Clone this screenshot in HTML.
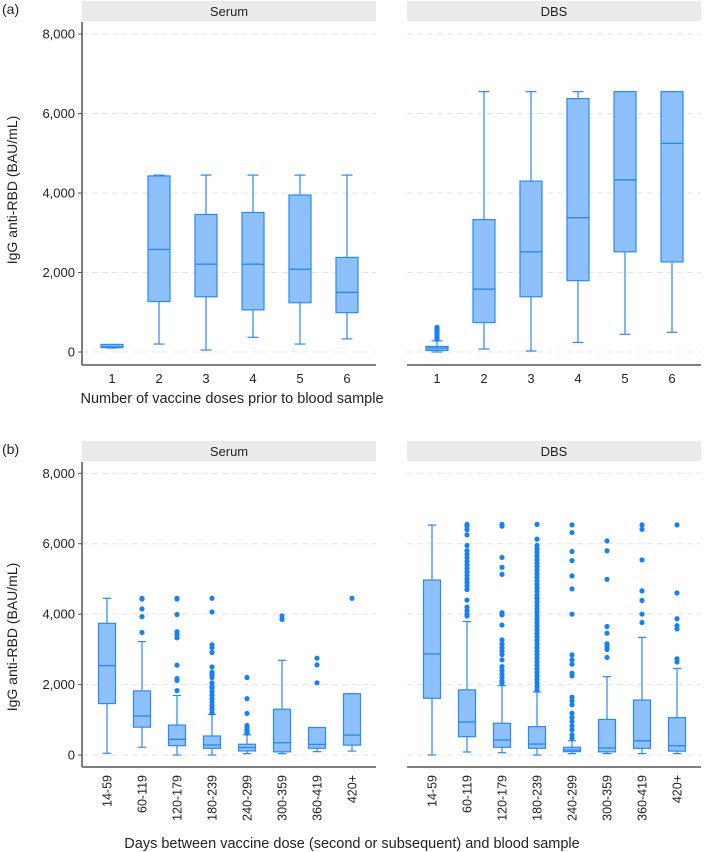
<!DOCTYPE html>
<html><head><meta charset="utf-8"><style>
html,body{margin:0;padding:0;background:#fff;}
svg{display:block;font-family:"Liberation Sans",Arial,sans-serif;}
</style></head><body>
<svg id="chart" width="704" height="852" viewBox="0 0 704 852"></svg>
<script>
// ---------- data ----------
const dosesCats = ["1","2","3","4","5","6"];
// [lowWhisker, q1, median, q3, highWhisker]
const aSerum = [[100,110,130,190,190],[200,1270,2580,4430,4450],[50,1390,2210,3460,4450],[370,1060,2210,3510,4450],[200,1240,2080,3950,4450],[330,990,1500,2380,4450]];
const aDBS = [[0,40,100,140,280],[75,740,1580,3330,6550],[25,1390,2520,4300,6550],[240,1795,3380,6375,6550],[445,2520,4330,6550,6550],[495,2265,5250,6550,6550]];
const aSerumOut = [[],[],[],[],[],[]];
const aDBSOut = [[320,360,400,440,480,520,560,600,620],[],[],[],[],[]];

const dayCats = ["14-59","60-119","120-179","180-239","240-299","300-359","360-419","420+"];
const bSerum = [[50,1460,2540,3740,4450],[220,790,1110,1820,3220],[0,265,445,850,1690],[0,190,285,540,1150],[40,115,210,305,575],[40,90,350,1300,2690],[95,190,300,780,780],[110,280,565,1740,1740]];
const bSerumOut = [
 [],
 [4450,4430,4150,3930,3480],
 [4450,4430,3990,3500,3420,3330,2550,2170,2120,1830],
 [4450,4060,3130,3050,2910,2500,2350,2280,2200,2050,1950,1900,1800,1700,1600,1500,1400,1300,1200],
 [2200,1600,1180,840,780,720,660,620],
 [3950,3850],
 [2750,2560,2050],
 [4450]
];
const bDBS = [[0,1610,2870,4970,6530],[85,520,940,1850,3790],[65,220,425,900,1970],[0,190,310,805,1790],[40,95,140,220,405],[40,90,200,1010,2225],[40,190,405,1560,3340],[40,110,265,1060,2460]];
const bDBSOut = [
 [],
 [6550,6500,6400,6250,5950,5800,5700,5600,5500,5400,5300,5200,5100,5000,4900,4800,4700,4400,4200,4100,4000,3950],
 [6550,6500,5610,5330,5130,4040,3980,3690,3270,3150,3050,2950,2850,2700,2510,2400,2300,2200,2100,2040],
 [6550,6130,5950,5850,5750,5650,5550,5450,5350,5250,5150,5050,4950,4850,4750,4650,4550,4450,4350,4250,4150,4050,3950,3850,3750,3650,3550,3450,3350,3250,3150,3050,2950,2850,2750,2650,2550,2450,2350,2250,2150,2050,1950,1850],
 [6535,6317,5777,5522,5087,4718,3999,2844,2702,2579,2324,2248,1642,1538,1425,1188,1065,951,828,715,573,478],
 [6080,5800,4990,3650,3460,3160,3080,3000,2770],
 [6535,6410,5540,4660,4390,3999,3763],
 [6535,4600,3870,3670,3580,2730,2640]
];
const yTicks = [0,2000,4000,6000,8000];
const yTickLabels = ["0","2,000","4,000","6,000","8,000"];

// ---------- drawing ----------
const svg = document.getElementById('chart');
const NS = "http://www.w3.org/2000/svg";
function mk(tag, attrs, parent){ const e=document.createElementNS(NS,tag); for(const k in attrs) e.setAttribute(k,attrs[k]); (parent||svg).appendChild(e); return e; }
const STROKE="#2a8af2", FILL="#8ec0fb", DOT="#1680f5";

function panel(cfg){
  const g = mk('g',{});
  
  
  const y = v => cfg.y0 - v*(cfg.y0-cfg.y8)/8000;
  const x = i => cfg.px + cfg.off + i*cfg.step;
  // strip
  const s = mk('rect',{x:cfg.px,y:cfg.stripY,width:294,height:20,fill:"#ebebeb"},g);
  
  
  const st = mk('text',{x:cfg.px+147,y:cfg.stripY+15,'text-anchor':'middle','font-size':13,fill:'#222'},g);
  st.textContent = cfg.title;
  
  
  // grid
  yTicks.forEach(t=>{
    const l = mk('line',{x1:cfg.px,x2:cfg.px+294,y1:y(t),y2:y(t),stroke:'#e4e4e4','stroke-dasharray':'6,4','stroke-width':1},g);
    
    
  });
  // x axis
  const xa = mk('line',{x1:cfg.px,x2:cfg.px+294,y1:cfg.axisY,y2:cfg.axisY,stroke:'#555','stroke-width':1.5},g);
  
  
  if(cfg.left){
    const ya = mk('line',{x1:cfg.px,x2:cfg.px,y1:cfg.stripY+21,y2:cfg.axisY,stroke:'#555','stroke-width':1.5},g);
    
    
    yTicks.forEach((t,i)=>{
      mk('line',{x1:cfg.px-4,x2:cfg.px,y1:y(t),y2:y(t),stroke:'#555'},g);
      const tl = mk('text',{x:cfg.px-7,y:y(t)+4.5,'text-anchor':'end','font-size':13,fill:'#222'},g);
      tl.textContent = yTickLabels[i];
      
      
    });
  }
  const bw = cfg.bw;
  cfg.cats.forEach((c,i)=>{
    const cx = x(i), d = cfg.data[i];
    const bg = mk('g',{},g);
    
    
    mk('line',{x1:cx,x2:cx,y1:y(d[0]),y2:y(d[4]),stroke:STROKE,'stroke-width':1.2},bg);
    mk('line',{x1:cx-bw/4,x2:cx+bw/4,y1:y(d[0]),y2:y(d[0]),stroke:STROKE,'stroke-width':1.2},bg);
    mk('line',{x1:cx-bw/4,x2:cx+bw/4,y1:y(d[4]),y2:y(d[4]),stroke:STROKE,'stroke-width':1.2},bg);
    mk('rect',{x:cx-bw/2,y:y(d[3]),width:bw,height:Math.max(1.5,y(d[1])-y(d[3])),fill:FILL,stroke:STROKE,'stroke-width':1.2},bg);
    mk('line',{x1:cx-bw/2,x2:cx+bw/2,y1:y(d[2]),y2:y(d[2]),stroke:STROKE,'stroke-width':1.4},bg);
    cfg.out[i].forEach(v=>{
      const p = mk('circle',{cx:cx,cy:y(v),r:2.6,fill:DOT},bg);
      
      
    });
    let lbl;
    if(cfg.rot){
      lbl = mk('text',{x:0,y:0,'text-anchor':'end','font-size':12.5,fill:'#222',transform:`translate(${cx+4.5},${cfg.axisY+8}) rotate(-90)`},g);
    } else {
      lbl = mk('text',{x:cx,y:cfg.axisY+18,'text-anchor':'middle','font-size':13,fill:'#222'},g);
    }
    lbl.textContent = c;
    
    
  });
}
panel({name:'a-serum-panel',title:'Serum',px:82,off:30,step:47,stripY:1,y0:352,y8:34,axisY:365,bw:22,cats:dosesCats,data:aSerum,out:aSerumOut,left:true,rot:false});
panel({name:'a-dbs-panel',title:'DBS',px:407,off:30,step:47,stripY:1,y0:352,y8:34,axisY:365,bw:22,cats:dosesCats,data:aDBS,out:aDBSOut,left:false,rot:false});
panel({name:'b-serum-panel',title:'Serum',px:82,off:25,step:35,stripY:441,y0:755,y8:473.3,axisY:767,bw:17,cats:dayCats,data:bSerum,out:bSerumOut,left:true,rot:true});
panel({name:'b-dbs-panel',title:'DBS',px:407,off:25,step:35,stripY:441,y0:755,y8:473.3,axisY:767,bw:17,cats:dayCats,data:bDBS,out:bDBSOut,left:false,rot:true});

function txt(name,attrs,s){ const t=mk('text',Object.assign({fill:'#222'},attrs)); t.textContent=s;   }
txt('panel-a-label',{x:2,y:14,'font-size':14},'(a)');
txt('panel-b-label',{x:2,y:454,'font-size':14},'(b)');
txt('y-axis-title-a',{x:0,y:0,'font-size':14,'text-anchor':'middle',transform:'translate(17,190) rotate(-90)'},'IgG anti-RBD (BAU/mL)');
txt('y-axis-title-b',{x:0,y:0,'font-size':14,'text-anchor':'middle',transform:'translate(17,637) rotate(-90)'},'IgG anti-RBD (BAU/mL)');
txt('x-axis-title-a',{x:232,y:403,'font-size':14.5,'text-anchor':'middle'},'Number of vaccine doses prior to blood sample');
txt('x-axis-title-b',{x:352,y:848,'font-size':14.5,'text-anchor':'middle'},'Days between vaccine dose (second or subsequent) and blood sample');
</script>
</body></html>
